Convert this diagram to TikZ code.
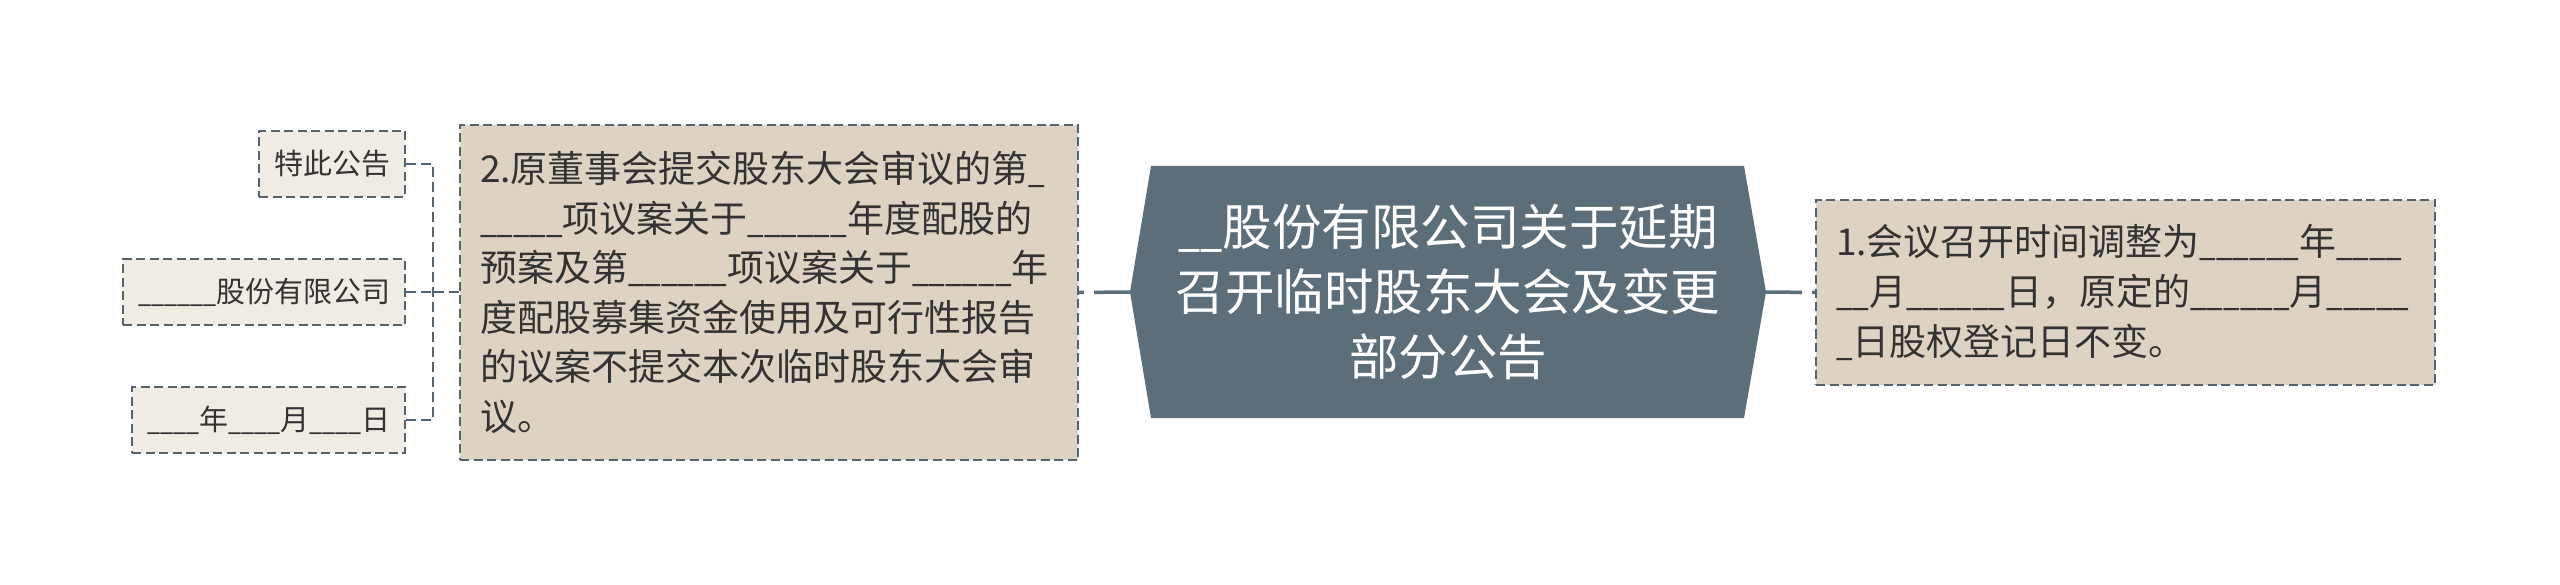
\documentclass[tikz,border=0pt]{standalone}
\usepackage{fontspec}
\newfontfamily\cjk{Noto Sans CJK SC}
\usetikzlibrary{calc}
\definecolor{hexfill}{HTML}{5B6E7A}
\definecolor{boxfill}{HTML}{DDD3C4}
\definecolor{smallfill}{HTML}{F0ECE4}
\definecolor{edgecol}{HTML}{55636E}
\definecolor{txt}{HTML}{333333}
\newcommand{\us}{\scalebox{0.8}[1]{\_}}
\begin{document}
\begin{tikzpicture}[x=1pt,y=-1pt,
  bigbox/.style={draw=edgecol, fill=boxfill, line width=2pt, dash pattern=on 9pt off 4.5pt,
    text=txt, align=left, inner xsep=20pt, inner ysep=0pt,
    font=\cjk\fontsize{37}{49.6}\selectfont},
  smallbox/.style={draw=edgecol, fill=smallfill, line width=2pt, dash pattern=on 9pt off 4.5pt,
    text=txt, inner xsep=15pt, inner ysep=0pt, minimum height=66pt,
    font=\cjk\fontsize{29}{36}\selectfont, anchor=east},
  mainlink/.style={draw=hexfill, line width=3.5pt, dash pattern=on 36pt off 10pt},
  sublink/.style={draw=edgecol, line width=2pt, dash pattern=on 10pt off 5pt}]
\fill[white] (0,0) rectangle (2560,585);
\useasboundingbox (0,0) rectangle (2560,585);
% central hexagon
\coordinate (hl) at (1130,292);
\coordinate (hr) at (1766,292);
\fill[hexfill] (1151,166) -- (1744,166) -- (hr) -- (1744,418) -- (1151,418) -- (hl) -- cycle;
\node[font=\cjk\fontsize{49.5}{65}\selectfont, text=white, align=center, inner sep=0pt] (hub) at (1448,292)
  {\us\us 股份有限公司关于延期\\召开临时股东大会及变更\\部分公告};
% right box
\node[bigbox, text width=579pt, minimum height=185pt] (b1) at (2125.5,292.5)
  {1.会议召开时间调整为\us\us\us\us\us\us 年\us\us\us\us\\
   \us\us 月\us\us\us\us\us\us 日，原定的\us\us\us\us\us\us 月\us\us\us\us\us\\
   \us 日股权登记日不变。};
% left box
\node[bigbox, text width=578pt, minimum height=335pt] (b2) at (769,292.5)
  {2.原董事会提交股东大会审议的第\us\\
   \us\us\us\us\us 项议案关于\us\us\us\us\us\us 年度配股的\\
   预案及第\us\us\us\us\us\us 项议案关于\us\us\us\us\us\us 年\\
   度配股募集资金使用及可行性报告\\
   的议案不提交本次临时股东大会审\\
   议。};
% small boxes
\node[smallbox] (s1) at (406,164) {特此公告};
\node[smallbox] (s2) at (406,292.5) {\us\us\us\us\us\us 股份有限公司};
\node[smallbox] (s3) at (406,420) {\us\us\us\us 年\us\us\us\us 月\us\us\us\us 日};
% connectors
\draw[mainlink] (hl) -- (b2.east);
\draw[mainlink] (hr) -- (b1.west);
\coordinate (sp) at (433,292.5);
\draw[sublink] (b2.west) -- (sp);
\draw[sublink] (s1.east) -- (s1.east -| sp) -- (s3.east -| sp) -- (s3.east);
\draw[sublink] (s2.east) -- (s2.east -| sp);
\end{tikzpicture}
\end{document}
